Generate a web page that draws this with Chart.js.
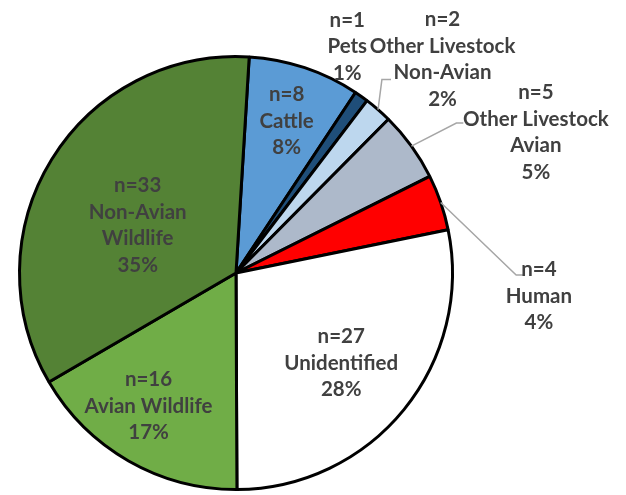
<!DOCTYPE html>
<html>
<head>
<meta charset="utf-8">
<script src="https://cdn.jsdelivr.net/npm/chart.js@4"></script>
<style>
  html, body { margin: 0; padding: 0; background: #fff; }
  #wrap { width: 626px; height: 495px; }
</style>
</head>
<body>
<div id="wrap"><canvas id="pieChart" width="626" height="495"></canvas></div>
<script>
// data
const categories = ["Cattle", "Pets", "Other Livestock Non-Avian", "Other Livestock Avian",
  "Human", "Unidentified", "Avian Wildlife", "Non-Avian Wildlife"];
const counts = [8, 1, 2, 5, 4, 27, 16, 33];
const percentLabels = ["8%", "1%", "2%", "5%", "4%", "28%", "17%", "35%"];
const nameLines = [["Cattle"], ["Pets"], ["Other Livestock", "Non-Avian"], ["Other Livestock", "Avian"],
  ["Human"], ["Unidentified"], ["Avian Wildlife"], ["Non-Avian", "Wildlife"]];

const colors = ["#5B9BD5", "#1F4E79", "#BDD7EE", "#ADB9CA", "#FF0000", "#FFFFFF", "#70AD47", "#548235"];

// label block centre, in units of the pie radius from the pie centre
// leader: elbow and end point (same units), starts on the rim at the slice middle
const labelPlace = [
  { at: [0.234, -0.702] },
  { at: [0.514, -1.046] },
  { at: [0.954, -0.986], elbow: [0.674, -0.894], end: [0.716, -0.894] },
  { at: [1.385, -0.649], elbow: [1.018, -0.693], end: [1.05, -0.693] },
  { at: [1.399, 0.106], elbow: [1.294, 0.009], end: [1.335, 0.009] },
  { at: [0.486, 0.417] },
  { at: [-0.404, 0.615] },
  { at: [-0.454, -0.220] }
];

const labelPlugin = {
  id: "sliceLabels",
  afterDraw(chart) {
    const ctx = chart.ctx;
    const arcs = chart.getDatasetMeta(0).data;
    ctx.save();
    ctx.font = "bold 20.5px Lato, 'Liberation Sans', sans-serif";
    ctx.fillStyle = "#404040";
    ctx.textAlign = "center";
    ctx.textBaseline = "middle";
    const lineH = 26.5;
    arcs.forEach((arc, i) => {
      const p = arc.getProps(["x", "y", "startAngle", "endAngle", "outerRadius"], true);
      const r = p.outerRadius;
      const place = labelPlace[i];
      if (place.elbow) {
        const mid = (p.startAngle + p.endAngle) / 2;
        ctx.beginPath();
        ctx.strokeStyle = "#A6A6A6";
        ctx.lineWidth = 1.5;
        ctx.moveTo(p.x + Math.cos(mid) * r, p.y + Math.sin(mid) * r);
        ctx.lineTo(p.x + place.elbow[0] * r, p.y + place.elbow[1] * r);
        ctx.lineTo(p.x + place.end[0] * r, p.y + place.end[1] * r);
        ctx.stroke();
      }
      const lines = ["n=" + counts[i], ...nameLines[i], percentLabels[i]];
      const cx = p.x + place.at[0] * r;
      const cy = p.y + place.at[1] * r;
      const top = cy - (lines.length - 1) * lineH / 2;
      lines.forEach((t, k) => ctx.fillText(t, cx, top + k * lineH));
    });
    ctx.restore();
  }
};

const pieChart = new Chart(document.getElementById("pieChart").getContext("2d"), {
  type: "pie",
  data: {
    labels: categories,
    datasets: [{
      data: counts,
      backgroundColor: colors,
      borderColor: "#000000",
      borderWidth: 3
    }]
  },
  options: {
    responsive: false,
    animation: false,
    rotation: 3.5,
    layout: { padding: { left: 18, right: 172, top: 55, bottom: 4 } },
    plugins: {
      legend: { display: false },
      tooltip: { enabled: false }
    }
  },
  plugins: [labelPlugin]
});
</script>
</body>
</html>
